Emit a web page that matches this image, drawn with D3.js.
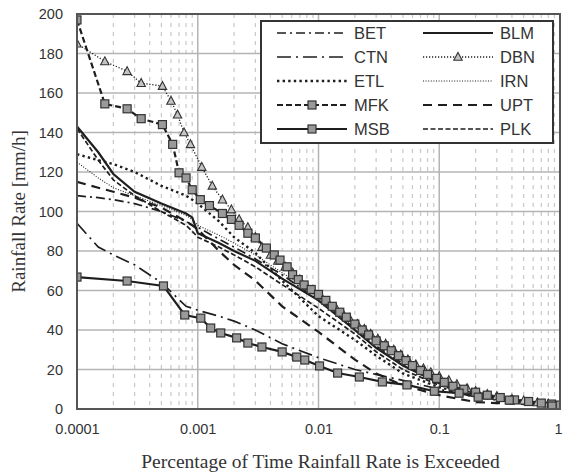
<!DOCTYPE html>
<html>
<head>
<meta charset="utf-8">
<script src="https://cdn.jsdelivr.net/npm/d3@7"></script>
<style>
  body { margin: 0; background: #fff; }
  svg { display: block; }
</style>
</head>
<body>
<svg width="563" height="474"></svg>
<script>
// time percentages shared by the plain line series
const pct = [0.0001, 0.00015, 0.0002, 0.0003, 0.0005, 0.0008, 0.0009, 0.001, 0.0015, 0.002,
             0.003, 0.005, 0.01, 0.02, 0.03, 0.05, 0.1, 0.2, 0.3, 0.5, 1];
const betRate = [108, 107, 106, 104, 100, 95, 93, 92, 86, 82, 76, 68, 55, 41, 32, 23, 14, 8, 6, 4, 2.5];
const ctnRate = [94, 82, 78, 73, 64, 52, 51, 50, 47, 44.5, 40, 33, 26, 20, 17.5, 14.5, 10, 6, 4.5, 3, 1.5];
const etlRate = [129, 126, 124, 120, 113, 108, 106, 104, 95, 87, 79, 65, 47, 35, 27, 18, 11, 7, 5, 3.5, 2];
const blmRate = [143, 130, 119, 110, 104, 99, 97, 89, 84, 80, 75, 66, 55, 40, 31, 22, 13, 8, 6, 4, 2];
const irnRate = [125, 117, 112, 108, 103, 98, 96, 93, 88, 84, 78, 69, 57, 43, 34, 24, 14, 9, 6.5, 4.5, 2.5];
const uptRate = [115, 112, 110, 107, 102, 95, 93, 91, 80, 73, 65, 52, 39, 25, 18, 12, 7, 3.5, 3, 2.5, 2];
const plkRate = [142, 126, 116, 108, 100, 93, 90, 87, 82, 78, 72, 63, 51, 38, 29, 20, 12, 7, 5.5, 3.5, 2];

// marker series have their own percentages
const dbnPct = [0.0001, 0.00017, 0.00026, 0.00034, 0.00051, 0.0006, 0.00068, 0.00077, 0.00087, 0.00108,
                0.00132, 0.0016, 0.0019, 0.0022, 0.0026, 0.003, 0.0034, 0.004, 0.0046, 0.0053,
                0.0061, 0.007, 0.008, 0.009, 0.0105, 0.012, 0.014, 0.016, 0.018, 0.021,
                0.024, 0.027, 0.031, 0.036, 0.042, 0.048, 0.055, 0.064, 0.074, 0.085,
                0.1, 0.12, 0.14, 0.17, 0.2, 0.25, 0.3, 0.4, 0.5, 0.65, 0.8, 1];
const dbnRate = [185, 176, 171, 165, 163.5, 156, 149, 140, 134, 122.5,
                 113, 106, 101, 96, 92, 87, 82, 78, 75, 72,
                 69, 65.5, 62, 60, 57, 54, 51, 48, 46, 43,
                 40.5, 38, 35.5, 33, 30, 27.5, 25, 22.5, 20.5, 18.5,
                 16.5, 14.5, 12.5, 10.5, 9, 7.5, 6.5, 5, 4.2, 3.3, 2.7, 2.2];
const mfkPct = [0.0001, 0.00017, 0.00026, 0.00034, 0.00051, 0.00062, 0.0007, 0.0008, 0.0009, 0.00105,
                0.00125, 0.0016, 0.0019, 0.0022, 0.0026, 0.003, 0.0037, 0.0043, 0.0048, 0.0055,
                0.0061, 0.0068, 0.0076, 0.0087, 0.01, 0.0115, 0.013, 0.015, 0.017, 0.02,
                0.023, 0.026, 0.03, 0.035, 0.04, 0.046, 0.053, 0.06, 0.07, 0.08,
                0.095, 0.11, 0.13, 0.16, 0.2, 0.25, 0.32, 0.42, 0.55, 0.7, 0.85, 1];
const mfkRate = [197, 154.5, 152, 147, 144, 134, 119.6, 117, 111, 106,
                 103, 99, 96, 93, 89, 86.6, 81.5, 78, 75.4, 72,
                 68, 65.5, 62.8, 60.5, 58, 55, 52, 49, 46.5, 43,
                 40, 37.5, 34.5, 32, 29.5, 27, 24.5, 22, 19.5, 17.5,
                 15.5, 13.5, 11.5, 10, 8.5, 7, 5.8, 4.6, 3.8, 3, 2.5, 2];
const msbPct = [0.0001, 0.00026, 0.00052, 0.00078, 0.00106, 0.00128, 0.00155, 0.0021, 0.0026, 0.0034,
                0.005, 0.0066, 0.0077, 0.0102, 0.0144, 0.0218, 0.0338, 0.054, 0.091, 0.146,
                0.21, 0.38, 0.86];
const msbRate = [66.8, 64.8, 62.3, 47.6, 46, 41, 38.5, 36, 33.4, 31.4,
                 28.9, 26.3, 24.8, 21.8, 18.2, 16.2, 13.7, 12.2, 9, 8,
                 6, 4.5, 1.5];

const xTicks = [0.0001, 0.001, 0.01, 0.1, 1];
const xTickLabels = ['0.0001', '0.001', '0.01', '0.1', '1'];
const yTicks = [0, 20, 40, 60, 80, 100, 120, 140, 160, 180, 200];

const series = [
  {name: 'BET', p: pct, r: betRate, dash: '9,4,2,4', w: 1.7},
  {name: 'BLM', p: pct, r: blmRate, dash: null, w: 2.2},
  {name: 'CTN', p: pct, r: ctnRate, dash: '14,5,2,5', w: 1.7},
  {name: 'DBN', p: dbnPct, r: dbnRate, dash: '1.2,1.8', w: 1.3, marker: 'tri'},
  {name: 'ETL', p: pct, r: etlRate, dash: '2.4,3.2', w: 2.4},
  {name: 'IRN', p: pct, r: irnRate, dash: '1,1.6', w: 1.1},
  {name: 'MFK', p: mfkPct, r: mfkRate, dash: '6,3', w: 2.2, marker: 'sq'},
  {name: 'UPT', p: pct, r: uptRate, dash: '9,6', w: 2.2},
  {name: 'MSB', p: msbPct, r: msbRate, dash: null, w: 2.2, marker: 'sq'},
  {name: 'PLK', p: pct, r: plkRate, dash: '5,2.5', w: 1.7}
];

const pLeft = 77, pRight = 560, pTop = 14, pBottom = 409;
const x = d3.scaleLog().domain([0.0001, 1]).range([pLeft, pRight]);
const y = d3.scaleLinear().domain([0, 200]).range([pBottom, pTop]);
const svg = d3.select('svg');
const ink = '#1e1e1e';
const sans = 'Liberation Sans, Arial, sans-serif';
const serif = 'Liberation Serif, Times New Roman, serif';

// minor vertical grid
const minor = [];
for (let e = -4; e < 0; e++) {
  for (let k = 2; k <= 9; k++) minor.push(k * Math.pow(10, e));
}
svg.append('g')
    .selectAll('line')
    .data(minor)
    .enter()
    .append('line')
    .attr('x1', d => x(d)).attr('x2', d => x(d))
    .attr('y1', pTop).attr('y2', pBottom)
    .style('stroke', '#c8c8c8')
    .style('stroke-width', 1.2)
    .style('stroke-dasharray', '4,5');
// major grid
svg.append('g')
    .selectAll('line')
    .data(yTicks)
    .enter()
    .append('line')
    .attr('x1', pLeft).attr('x2', pRight)
    .attr('y1', d => y(d)).attr('y2', d => y(d))
    .style('stroke', '#b4b4b4')
    .style('stroke-width', 1.5);
svg.append('g')
    .selectAll('line')
    .data(xTicks)
    .enter()
    .append('line')
    .attr('x1', d => x(d)).attr('x2', d => x(d))
    .attr('y1', pTop).attr('y2', pBottom)
    .style('stroke', '#b4b4b4')
    .style('stroke-width', 1.5);

// tick labels via d3 axes
const yAxis = d3.axisLeft(y).tickValues(yTicks).tickSize(0).tickPadding(14);
svg.append('g')
    .attr('transform', `translate(${pLeft},0)`)
    .call(yAxis)
    .call(g => g.select('.domain').remove())
    .selectAll('text')
    .style('font-family', sans)
    .style('font-size', '14.5px')
    .style('fill', '#333');
const xAxis = d3.axisBottom(x).tickValues(xTicks).tickSize(0).tickPadding(15)
    .tickFormat((d, i) => xTickLabels[i]);
svg.append('g')
    .attr('transform', `translate(0,${pBottom})`)
    .call(xAxis)
    .call(g => g.select('.domain').remove())
    .selectAll('text')
    .style('font-family', sans)
    .style('font-size', '14.5px')
    .style('fill', '#333')
    .attr('dx', d => d === 1 ? -2 : 0);

// lines
const line = d3.line().x(d => x(d[0])).y(d => y(d[1]));
svg.append('clipPath').attr('id', 'plotClip')
    .append('rect').attr('x', pLeft).attr('y', pTop - 2)
    .attr('width', pRight - pLeft).attr('height', pBottom - pTop + 2);
const plot = svg.append('g').attr('clip-path', 'url(#plotClip)');

function drawMarker(g, type, cx, cy) {
  if (type === 'sq') {
    g.append('rect')
        .attr('x', cx - 4).attr('y', cy - 4)
        .attr('width', 8).attr('height', 8)
        .style('fill', '#9a9a9a')
        .style('stroke', '#333')
        .style('stroke-width', 1.2);
  } else if (type === 'tri') {
    g.append('path')
        .attr('d', `M${cx},${cy - 4.6}L${cx + 4.2},${cy + 3.3}L${cx - 4.2},${cy + 3.3}Z`)
        .style('fill', '#c4c4c4')
        .style('stroke', '#333')
        .style('stroke-width', 1.1);
  }
}

series.forEach(s => {
  const pts = s.p.map((p, i) => [p, s.r[i]]);
  plot.append('path')
      .datum(pts)
      .attr('d', line)
      .style('fill', 'none')
      .style('stroke', ink)
      .style('stroke-width', s.w)
      .style('stroke-dasharray', s.dash);
});
series.filter(s => s.marker).forEach(s => {
  const g = plot.append('g');
  s.p.forEach((p, i) => drawMarker(g, s.marker, x(p), y(s.r[i])));
});

// frame
svg.append('rect')
    .attr('x', pLeft).attr('y', pTop)
    .attr('width', pRight - pLeft).attr('height', pBottom - pTop)
    .style('fill', 'none')
    .style('stroke', '#555')
    .style('stroke-width', 2);

// legend
const leg = svg.append('g');
leg.append('rect')
    .attr('x', 261).attr('y', 21)
    .attr('width', 292).attr('height', 122)
    .style('fill', '#fff')
    .style('stroke', '#333')
    .style('stroke-width', 2);
series.forEach((s, i) => {
  const col = i % 2, row = Math.floor(i / 2);
  const x0 = col ? 423 : 277, x1 = x0 + 70, yy = 33 + row * 24;
  leg.append('line')
      .attr('x1', x0).attr('x2', x1)
      .attr('y1', yy).attr('y2', yy)
      .style('stroke', ink)
      .style('stroke-width', s.w)
      .style('stroke-dasharray', s.dash);
  if (s.marker) drawMarker(leg, s.marker, (x0 + x1) / 2, yy);
  leg.append('text')
      .attr('x', x1 + 7).attr('y', yy)
      .attr('dy', '0.36em')
      .style('font-family', sans)
      .style('font-size', '16.5px')
      .style('fill', '#333')
      .text(s.name);
});

// titles
svg.append('text')
    .attr('x', (pLeft + pRight) / 2 + 2).attr('y', 468)
    .attr('text-anchor', 'middle')
    .style('font-family', serif)
    .style('font-size', '19.5px')
    .style('fill', '#333')
    .text('Percentage of Time Rainfall Rate is Exceeded');
svg.append('text')
    .attr('transform', `translate(25,${(pTop + pBottom) / 2}) rotate(-90)`)
    .attr('text-anchor', 'middle')
    .style('font-family', serif)
    .style('font-size', '19px')
    .style('fill', '#333')
    .text('Rainfall Rate [mm/h]');
</script>
</body>
</html>
